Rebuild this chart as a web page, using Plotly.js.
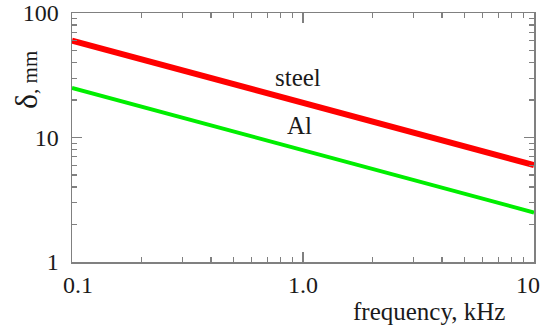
<!DOCTYPE html>
<html>
<head>
<meta charset="utf-8">
<script src="https://cdn.plot.ly/plotly-3.0.1.min.js"></script>
<style>html,body{margin:0;padding:0;background:#fff;}#chart{width:541px;height:328px;}</style>
</head>
<body>
<div id="chart"></div>
<script>
const frequency = [0.1, 1.0, 10];
const steelDepth = [60, 19, 6];
const alDepth = [25, 7.9, 2.5];
const xTickVals = [0.1, 1, 10];
const xTickText = ['\u20020.1', '1.0', '10\u2002'];
const yTickVals = [1, 10, 100];
const yTickText = ['1', '10', '100'];

function minorVals(lo, hi) {
  const v = [];
  for (let d = lo; d < hi; d *= 10) for (let k = 2; k <= 9; k++) v.push(+(d * k).toPrecision(3));
  return v;
}

const serif = '"Liberation Serif", "Times New Roman", serif';
const axisColor = '#808080';
const textColor = '#1a1a1a';

const traces = [
  {x: frequency, y: steelDepth, mode: 'lines', line: {color: '#ff0000', width: 6}, hoverinfo: 'skip'},
  {x: frequency, y: alDepth, mode: 'lines', line: {color: '#00ee00', width: 4}, hoverinfo: 'skip'}
];

const commonAxis = {
  type: 'log', showgrid: false, zeroline: false, showline: true, linecolor: axisColor, linewidth: 1.5,
  mirror: 'ticks', ticks: 'inside', ticklen: 10, tickcolor: axisColor, tickwidth: 1.2,
  tickmode: 'array', tickfont: {family: serif, size: 24, color: textColor},
  ticklabeloverflow: 'allow'
};

const layout = {
  width: 541, height: 328,
  margin: {l: 72, r: 7, t: 13, b: 66},
  paper_bgcolor: '#fff', plot_bgcolor: '#fff',
  showlegend: false,
  xaxis: Object.assign({}, commonAxis, {
    range: [-1, 1], tickvals: xTickVals, ticktext: xTickText, ticklabelstandoff: 1,
    minor: {tickmode: 'array', tickvals: minorVals(0.1, 10), ticks: 'inside', ticklen: 5, tickcolor: axisColor, tickwidth: 1.2, showgrid: false}
  }),
  yaxis: Object.assign({}, commonAxis, {
    range: [0, 2], tickvals: yTickVals, ticktext: yTickText, ticklabelstandoff: 7,
    minor: {tickmode: 'array', tickvals: minorVals(1, 100), ticks: 'inside', ticklen: 5, tickcolor: axisColor, tickwidth: 1.2, showgrid: false}
  }),
  annotations: [
    {text: 'steel', xref: 'paper', yref: 'paper', x: (298 - 72) / 462, y: (262 - 77) / 249,
     xanchor: 'center', yanchor: 'middle', showarrow: false,
     font: {family: serif, size: 25, color: textColor}},
    {text: 'Al', xref: 'paper', yref: 'paper', x: (299 - 72) / 462, y: (262 - 125) / 249,
     xanchor: 'center', yanchor: 'middle', showarrow: false,
     font: {family: serif, size: 25, color: textColor}},
    {text: 'frequency, kHz', xref: 'paper', yref: 'paper', x: (507 - 72) / 462, xanchor: 'right',
     y: (262 - 311) / 249, yanchor: 'middle', showarrow: false,
     font: {family: serif, size: 25, color: textColor}},
    {text: '<span style="font-size:32px">δ</span>, mm', xref: 'paper', yref: 'paper',
     x: (26 - 72) / 462, y: (262 - 80) / 249, xanchor: 'center', yanchor: 'middle', showarrow: false, textangle: -90,
     font: {family: serif, size: 21, color: textColor}}
  ]
};

Plotly.newPlot('chart', traces, layout, {staticPlot: true, displayModeBar: false});
</script>
</body>
</html>
